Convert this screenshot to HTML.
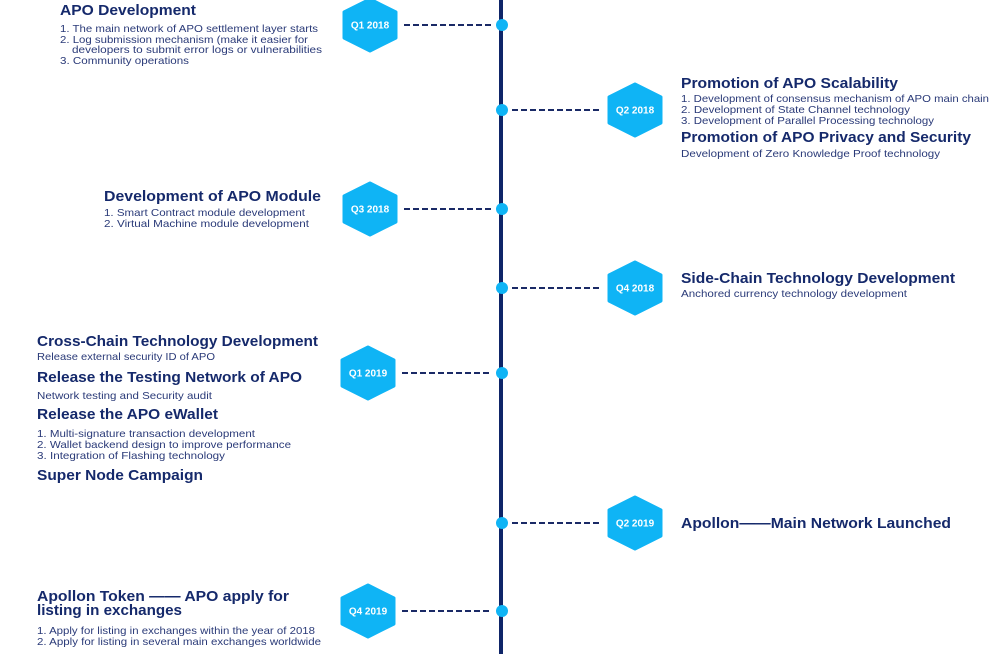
<!DOCTYPE html>
<html><head><meta charset="utf-8"><style>
html,body{margin:0;padding:0;background:#fff;width:1000px;height:654px;overflow:hidden}
svg{display:block}
.t{font:bold 15px "Liberation Sans",sans-serif;fill:#15296b}
.b{font:10.5px "Liberation Sans",sans-serif;fill:#2a3a78}
.h{font:bold 10px "Liberation Sans",sans-serif;fill:#fff}
.d{stroke:#1a2a66;stroke-width:2;stroke-dasharray:6,3}
</style></head><body>
<svg width="1000" height="654" viewBox="0 0 1000 654">
<defs>
<g id="hx"><polygon points="0,-26 26,-13 26,13 0,26 -26,13 -26,-13" fill="#0fb4f5" stroke="#0fb4f5" stroke-width="3" stroke-linejoin="round"/></g>
</defs>
<line x1="501" y1="0" x2="501" y2="654" stroke="#0f2568" stroke-width="4"/>

<line class="d" x1="404" y1="25" x2="492" y2="25"/>
<circle cx="502" cy="25" r="6" fill="#0fb4f5"/>
<use href="#hx" x="370" y="25"/><text class="h" x="370" y="28.5" text-anchor="middle">Q1 2018</text>
<text class="t" x="60" y="15" textLength="136" lengthAdjust="spacingAndGlyphs">APO Development</text>
<text class="b" x="60" y="32" textLength="258" lengthAdjust="spacingAndGlyphs">1. The main network of APO settlement layer starts</text>
<text class="b" x="60" y="43" textLength="248" lengthAdjust="spacingAndGlyphs">2. Log submission mechanism (make it easier for</text>
<text class="b" x="72" y="53" textLength="250" lengthAdjust="spacingAndGlyphs">developers to submit error logs or vulnerabilities</text>
<text class="b" x="60" y="64" textLength="129" lengthAdjust="spacingAndGlyphs">3. Community operations</text>

<line class="d" x1="512" y1="110" x2="600" y2="110"/>
<circle cx="502" cy="110" r="6" fill="#0fb4f5"/>
<use href="#hx" x="635" y="110"/><text class="h" x="635" y="113.5" text-anchor="middle">Q2 2018</text>
<text class="t" x="681" y="88" textLength="217" lengthAdjust="spacingAndGlyphs">Promotion of APO Scalability</text>
<text class="b" x="681" y="102" textLength="308" lengthAdjust="spacingAndGlyphs">1. Development of consensus mechanism of APO main chain</text>
<text class="b" x="681" y="113" textLength="229" lengthAdjust="spacingAndGlyphs">2. Development of State Channel technology</text>
<text class="b" x="681" y="124" textLength="253" lengthAdjust="spacingAndGlyphs">3. Development of Parallel Processing technology</text>
<text class="t" x="681" y="142" textLength="290" lengthAdjust="spacingAndGlyphs">Promotion of APO Privacy and Security</text>
<text class="b" x="681" y="157" textLength="259" lengthAdjust="spacingAndGlyphs">Development of Zero Knowledge Proof technology</text>

<line class="d" x1="404" y1="209" x2="492" y2="209"/>
<circle cx="502" cy="209" r="6" fill="#0fb4f5"/>
<use href="#hx" x="370" y="209"/><text class="h" x="370" y="212.5" text-anchor="middle">Q3 2018</text>
<text class="t" x="104" y="201" textLength="217" lengthAdjust="spacingAndGlyphs">Development of APO Module</text>
<text class="b" x="104" y="216" textLength="201" lengthAdjust="spacingAndGlyphs">1. Smart Contract module development</text>
<text class="b" x="104" y="227" textLength="205" lengthAdjust="spacingAndGlyphs">2. Virtual Machine module development</text>

<line class="d" x1="512" y1="288" x2="600" y2="288"/>
<circle cx="502" cy="288" r="6" fill="#0fb4f5"/>
<use href="#hx" x="635" y="288"/><text class="h" x="635" y="291.5" text-anchor="middle">Q4 2018</text>
<text class="t" x="681" y="283" textLength="274" lengthAdjust="spacingAndGlyphs">Side-Chain Technology Development</text>
<text class="b" x="681" y="297" textLength="226" lengthAdjust="spacingAndGlyphs">Anchored currency technology development</text>

<line class="d" x1="402" y1="373" x2="492" y2="373"/>
<circle cx="502" cy="373" r="6" fill="#0fb4f5"/>
<use href="#hx" x="368" y="373"/><text class="h" x="368" y="376.5" text-anchor="middle">Q1 2019</text>
<text class="t" x="37" y="346" textLength="281" lengthAdjust="spacingAndGlyphs">Cross-Chain Technology Development</text>
<text class="b" x="37" y="360" textLength="178" lengthAdjust="spacingAndGlyphs">Release external security ID of APO</text>
<text class="t" x="37" y="382" textLength="265" lengthAdjust="spacingAndGlyphs">Release the Testing Network of APO</text>
<text class="b" x="37" y="399" textLength="175" lengthAdjust="spacingAndGlyphs">Network testing and Security audit</text>
<text class="t" x="37" y="419" textLength="181" lengthAdjust="spacingAndGlyphs">Release the APO eWallet</text>
<text class="b" x="37" y="437" textLength="218" lengthAdjust="spacingAndGlyphs">1. Multi-signature transaction development</text>
<text class="b" x="37" y="448" textLength="254" lengthAdjust="spacingAndGlyphs">2. Wallet backend design to improve performance</text>
<text class="b" x="37" y="459" textLength="188" lengthAdjust="spacingAndGlyphs">3. Integration of Flashing technology</text>
<text class="t" x="37" y="480" textLength="166" lengthAdjust="spacingAndGlyphs">Super Node Campaign</text>

<line class="d" x1="512" y1="523" x2="600" y2="523"/>
<circle cx="502" cy="523" r="6" fill="#0fb4f5"/>
<use href="#hx" x="635" y="523"/><text class="h" x="635" y="526.5" text-anchor="middle">Q2 2019</text>
<text class="t" x="681" y="528" textLength="270" lengthAdjust="spacingAndGlyphs">Apollon——Main Network Launched</text>

<line class="d" x1="402" y1="611" x2="492" y2="611"/>
<circle cx="502" cy="611" r="6" fill="#0fb4f5"/>
<use href="#hx" x="368" y="611"/><text class="h" x="368" y="614.5" text-anchor="middle">Q4 2019</text>
<text class="t" x="37" y="601" textLength="252" lengthAdjust="spacingAndGlyphs">Apollon Token —— APO apply for</text>
<text class="t" x="37" y="615" textLength="145" lengthAdjust="spacingAndGlyphs">listing in exchanges</text>
<text class="b" x="37" y="634" textLength="278" lengthAdjust="spacingAndGlyphs">1. Apply for listing in exchanges within the year of 2018</text>
<text class="b" x="37" y="645" textLength="284" lengthAdjust="spacingAndGlyphs">2. Apply for listing in several main exchanges worldwide</text>
</svg>
</body></html>
